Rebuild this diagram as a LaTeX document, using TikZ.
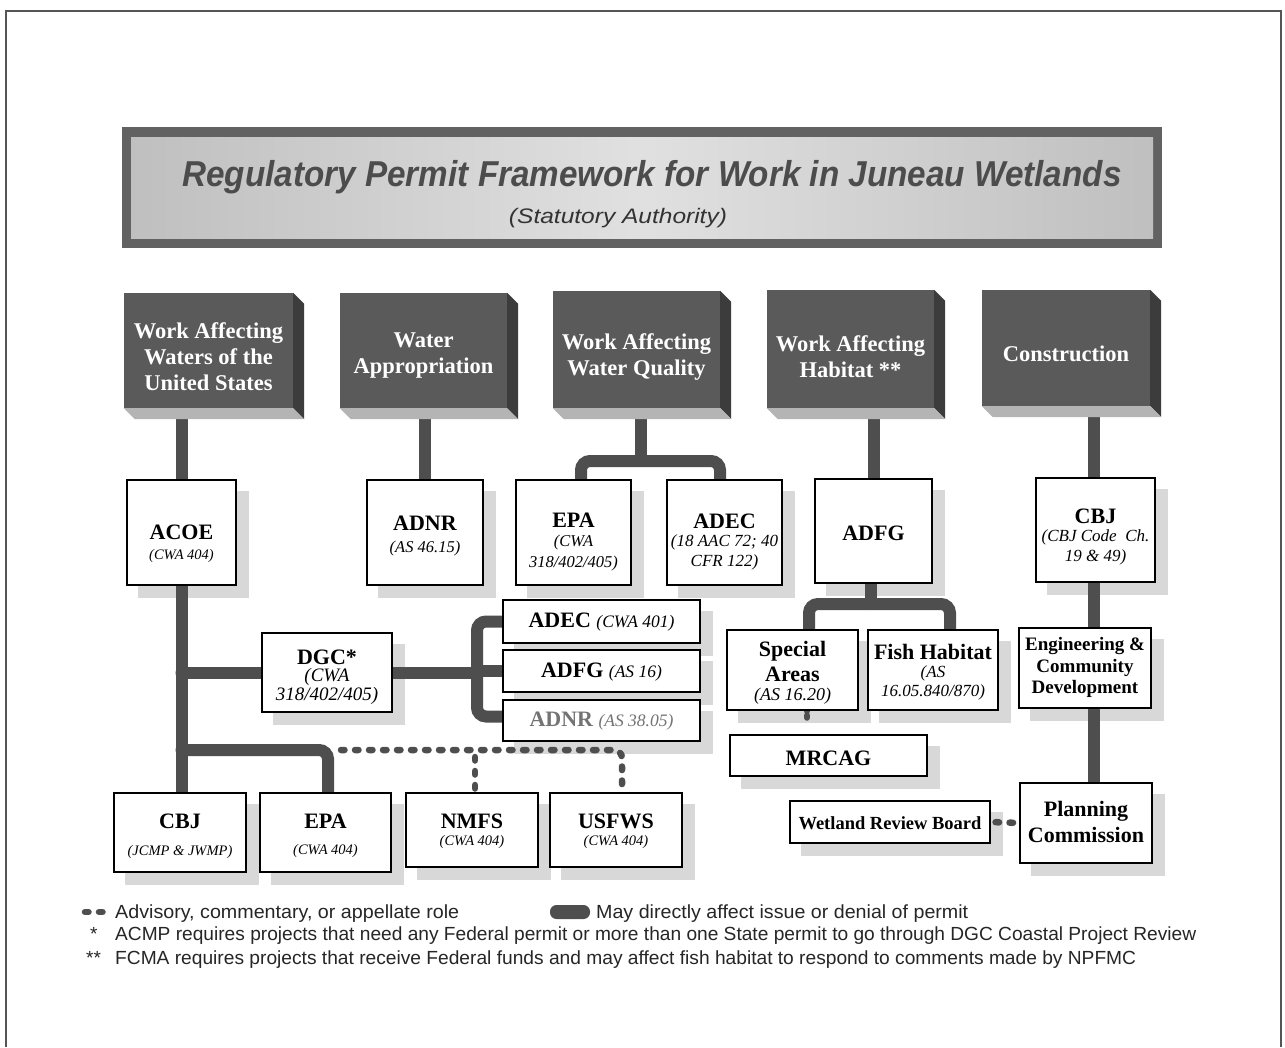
\documentclass[tikz,border=0pt]{standalone}
\usepackage{fontspec}
\usepackage{graphicx}
\setmainfont{Liberation Serif}
\newfontfamily\sansf{Liberation Sans}
\usetikzlibrary{calc}
\pgfdeclarelayer{bglayer}
\pgfdeclarelayer{shadowlayer}
\pgfdeclarelayer{connlayer}
\pgfsetlayers{bglayer,shadowlayer,connlayer,main}
\definecolor{darkface}{HTML}{5A5A5A}
\definecolor{sideface}{HTML}{3C3C3C}
\definecolor{botface}{HTML}{B4B4B4}
\definecolor{conncol}{HTML}{4E4E4E}
\definecolor{shadowcol}{HTML}{D8D8D8}
\definecolor{titlecol}{HTML}{4C4C4C}
\definecolor{bannerdark}{HTML}{626262}
\definecolor{framecol}{HTML}{555555}

\newcommand\wbox[5]{%
  \node[wboxst, minimum width=#4, minimum height=#5] (#1) at (#2,#3) {};
  \begin{pgfonlayer}{shadowlayer}
    \fill[shadowcol] ($(#1.north west)+(12,12)$) rectangle ($(#1.south east)+(12,12)$);
  \end{pgfonlayer}}
\newcommand\tbox[5]{%
  \node[face, minimum width={#4-#2}, minimum height={#5-#3}] (#1) at ({(#2+#4)/2},{(#3+#5)/2}) {};
  \fill[sideface] (#1.north east) -- ++(11,11) -- ($(#1.south east)+(11,11)$) -- (#1.south east) -- cycle;
  \fill[botface] (#1.south west) -- (#1.south east) -- ++(11,11) -- ($(#1.south west)+(11,11)$) -- cycle;}
\newcommand\nm[1]{{\bfseries #1}}
\newcommand\ct[2]{{\itshape\fontsize{#1}{#1}\selectfont #2}}

\begin{document}
\begin{tikzpicture}[x=1pt,y=-1pt,
  wboxst/.style={draw=black, line width=1.1pt, fill=white, inner sep=0pt},
  face/.style={fill=darkface, draw=none, inner sep=0pt},
  toplabel/.style={text=white, font=\fontsize{22.5}{26}\selectfont\bfseries, align=center, inner sep=0pt},
  txt/.style={align=center, inner sep=0pt, font=\fontsize{22}{20}\selectfont},
  conn/.style={draw=conncol, line width=12pt, line cap=round, rounded corners=9pt},
  adv/.style={draw=conncol, line width=6.5pt, line cap=round, dash pattern=on 3.5pt off 10.5pt},
  legend/.style={font=\sansf\fontsize{19}{21}\selectfont, anchor=base west, inner sep=0pt, text=black!85},
]
\useasboundingbox (0,0) rectangle (1285,1047);
\begin{pgfonlayer}{bglayer}
  \fill[white] (0,0) rectangle (1285,1047);
\end{pgfonlayer}
\draw[framecol, line width=1.6pt] (6,1047) -- (6,11) -- (1281,11) -- (1281,1047);

% title banner
\fill[bannerdark] (122,127) rectangle (1162,248);
\shade[left color=black!25, right color=black!25, middle color=black!12] (131,137) rectangle (1153,238);
\node[anchor=base, text=titlecol, inner sep=0pt] (title) at (652,186)
  {\resizebox{939pt}{\height}{\sansf\bfseries\itshape\fontsize{36}{36}\selectfont Regulatory Permit Framework for Work in Juneau Wetlands}};
\node[anchor=base, text=black!80, inner sep=0pt] (subtitle) at (618,223)
  {\resizebox{218pt}{\height}{\sansf\itshape\fontsize{21}{21}\selectfont (Statutory Authority)}};

% top 3D boxes
\tbox{t1}{124}{293}{293}{408}
\tbox{t2}{340}{293}{507}{408}
\tbox{t3}{553}{291}{720}{408}
\tbox{t4}{767}{290}{934}{408}
\tbox{t5}{982}{290}{1150}{406}
\node[toplabel] (t1l) at (208.5,357) {Work Affecting\\Waters of the\\United States};
\node[toplabel] (t2l) at (423.5,356) {Water\\Appropriation};
\node[toplabel] (t3l) at (636.5,357) {Work Affecting\\Water Quality};
\node[toplabel] (t4l) at (850.5,357) {Work Affecting\\Habitat **};
\node[toplabel] (t5l) at (1066,354) {Construction};

% white boxes
\wbox{acoe}{181.5}{532.5}{109}{105}
\wbox{adnr}{425}{532.5}{116}{105}
\wbox{epa}{573.5}{532.5}{115}{105}
\wbox{adec}{724.5}{532.5}{115}{105}
\wbox{adfg}{873.5}{531}{117}{104}
\wbox{cbjt}{1095.5}{530}{119}{104}
\wbox{dgc}{327}{672.5}{130}{79}
\wbox{adecb}{601.5}{621.5}{197}{43}
\wbox{adfgb}{601.5}{671}{197}{42}
\wbox{adnrb}{601.5}{720.5}{197}{41}
\wbox{special}{792.5}{670}{131}{80}
\wbox{fish}{933}{670}{130}{80}
\wbox{mrcag}{828.5}{755.5}{197}{41}
\wbox{eng}{1085}{668}{132}{80}
\wbox{plan}{1086}{823}{132}{80}
\wbox{wrb}{890}{822}{200}{42}
\wbox{cbjb}{180}{832.5}{132}{79}
\wbox{epab}{325.5}{832.5}{131}{79}
\wbox{nmfs}{472}{830}{132}{74}
\wbox{usfws}{616}{830}{132}{74}

% box texts
\node[txt] (acoel) at (181.5,544) {\nm{ACOE}\\\ct{14.5}{(CWA 404)}};
\node[txt] (adnrl) at (425,536) {\nm{ADNR}\\[1.5pt]\ct{16.5}{(AS 46.15)}};
\node[txt] (epal) at (573.5,542) {\nm{EPA}\\[-1.5pt]\ct{16.5}{(CWA}\\[1pt]\ct{16.5}{318/402/405)}};
\node[txt] (adecl) at (724.5,542) {\nm{ADEC}\\[-1.5pt]\ct{17}{(18 AAC 72; 40}\\[0pt]\ct{17}{CFR 122)}};
\node[txt] (adfgl) at (873.5,533) {\nm{ADFG}};
\node[txt] (cbjtl) at (1095.5,537) {\nm{CBJ}\\[-1.5pt]\ct{17}{(CBJ Code\ \ Ch.}\\[0pt]\ct{17}{19 \& 49)}};
\node[txt] (dgcl) at (327,677) {\nm{DGC*}\\[-2.5pt]\ct{19}{(CWA}\\[-1pt]\ct{19}{318/402/405)}};
\node[txt] (adecbl) at (601.5,622) {\nm{ADEC} \ct{17.5}{(CWA 401)}};
\node[txt] (adfgbl) at (601.5,672) {\nm{ADFG} \ct{17.5}{(AS 16)}};
\node[txt, text=black!55] (adnrbl) at (601.5,721) {\nm{ADNR} \ct{17.5}{(AS 38.05)}};
\node[txt] (speciall) at (792.5,673) {\nm{Special}\\[5pt]\nm{Areas}\\[-1.5pt]\ct{18}{(AS 16.20)}};
\node[txt] (fishl) at (933,672) {\nm{Fish Habitat}\\[-1.5pt]\ct{17}{(AS}\\[-1pt]\ct{17}{16.05.840/870)}};
\node[txt] (mrcagl) at (828.5,758) {\nm{MRCAG}};
\node[txt, font=\fontsize{19}{21.5}\selectfont] (engl) at (1085,667.5) {\nm{Engineering \&}\\\nm{Community}\\\nm{Development}};
\node[txt] (planl) at (1086,822) {\nm{Planning}\\[4pt]\nm{Commission}};
\node[txt, font=\fontsize{18.5}{20}\selectfont] (wrbl) at (890,823) {\nm{Wetland Review Board}};
\node[txt] (cbjbl) at (180,836) {\nm{CBJ}\\[7.5pt]\ct{14.5}{(JCMP \& JWMP)}};
\node[txt] (epabl) at (325.5,836) {\nm{EPA}\\[6.5pt]\ct{14.5}{(CWA 404)}};
\node[txt] (nmfsl) at (472,831) {\nm{NMFS}\\[-3.5pt]\ct{14.5}{(CWA 404)}};
\node[txt] (usfwsl) at (616,831) {\nm{USFWS}\\[-3.5pt]\ct{14.5}{(CWA 404)}};

% connectors
\coordinate (j3) at (641,461);
\coordinate (j6) at (181.5,750);
\coordinate (bx) at (477,672.5);
\coordinate (sl) at (809,604);
\coordinate (fr) at (950,604);
\coordinate (jf) at (871,604);
\coordinate (ex) at (1094,600);
\coordinate (sm) at (807,720);
\coordinate (d0) at (341,750);
\coordinate (nx) at (475,757);
\begin{pgfonlayer}{connlayer}
  \draw[conn] (acoe.north) -- (acoe.north |- t1.south);
  \draw[conn] (adnr.north) -- (adnr.north |- t2.south);
  \draw[conn] (j3) -- (j3 |- t3.south);
  \draw[conn] ([xshift=7.5pt]epa.north) |- (j3) -| ([xshift=-4.5pt]adec.north);
  \draw[conn] (adfg.north) -- (adfg.north |- t4.south);
  \draw[conn] (ex |- cbjt.north) -- (ex |- t5.south);
  \draw[conn] (acoe.south) -- (acoe.south |- cbjb.north);
  \draw[conn] (dgc.west) -- (dgc.west -| acoe.south);
  \draw[conn] (j6) -| ([xshift=2.5pt]epab.north);
  \draw[conn] (dgc.east) -- (bx);
  \draw[conn] (adecb.west) -| (bx) |- ([yshift=4pt]adnrb.west);
  \draw[conn] (adfgb.west) -- (adfgb.west -| bx);
  \draw[conn] (jf |- adfg.south) -- (jf);
  \draw[conn] (sl |- special.north) -- (sl) -- (fr) -- (fr |- fish.north);
  \draw[conn] (ex |- cbjt.south) -- (ex |- eng.north);
  \draw[conn] (ex |- eng.south) -- (ex |- plan.north);
  \draw[adv, dash pattern=on 0pt off 5pt on 2pt off 40pt] (sm |- special.south) -- (sm |- mrcag.north);
  \draw[adv, dash phase=-5pt] (wrb.east) -- (plan.west);
  \draw[adv, rounded corners=8pt] (d0) -| ([xshift=6pt]usfws.north);
  \draw[adv] (nx) -- (nx |- nmfs.north);
\end{pgfonlayer}

% legend
\draw[adv] (85,912) -- (105,912);
\fill[conncol, rounded corners=6.5pt] (550,905) rectangle (590,919);
\node[legend] (l1) at (115,918) {\resizebox{344pt}{\height}{Advisory, commentary, or appellate role}};
\node[legend] (l2) at (596,918) {\resizebox{372pt}{\height}{May directly affect issue or denial of permit}};
\node[legend] (l3s) at (90,940) {*};
\node[legend] (l3) at (115,940) {\resizebox{1081pt}{\height}{ACMP requires projects that need any Federal permit or more than one State permit to go through DGC Coastal Project Review}};
\node[legend] (l4s) at (86,964) {**};
\node[legend] (l4) at (115,964) {\resizebox{1021pt}{\height}{FCMA requires projects that receive Federal funds and may affect fish habitat to respond to comments made by NPFMC}};
\end{tikzpicture}
\end{document}
